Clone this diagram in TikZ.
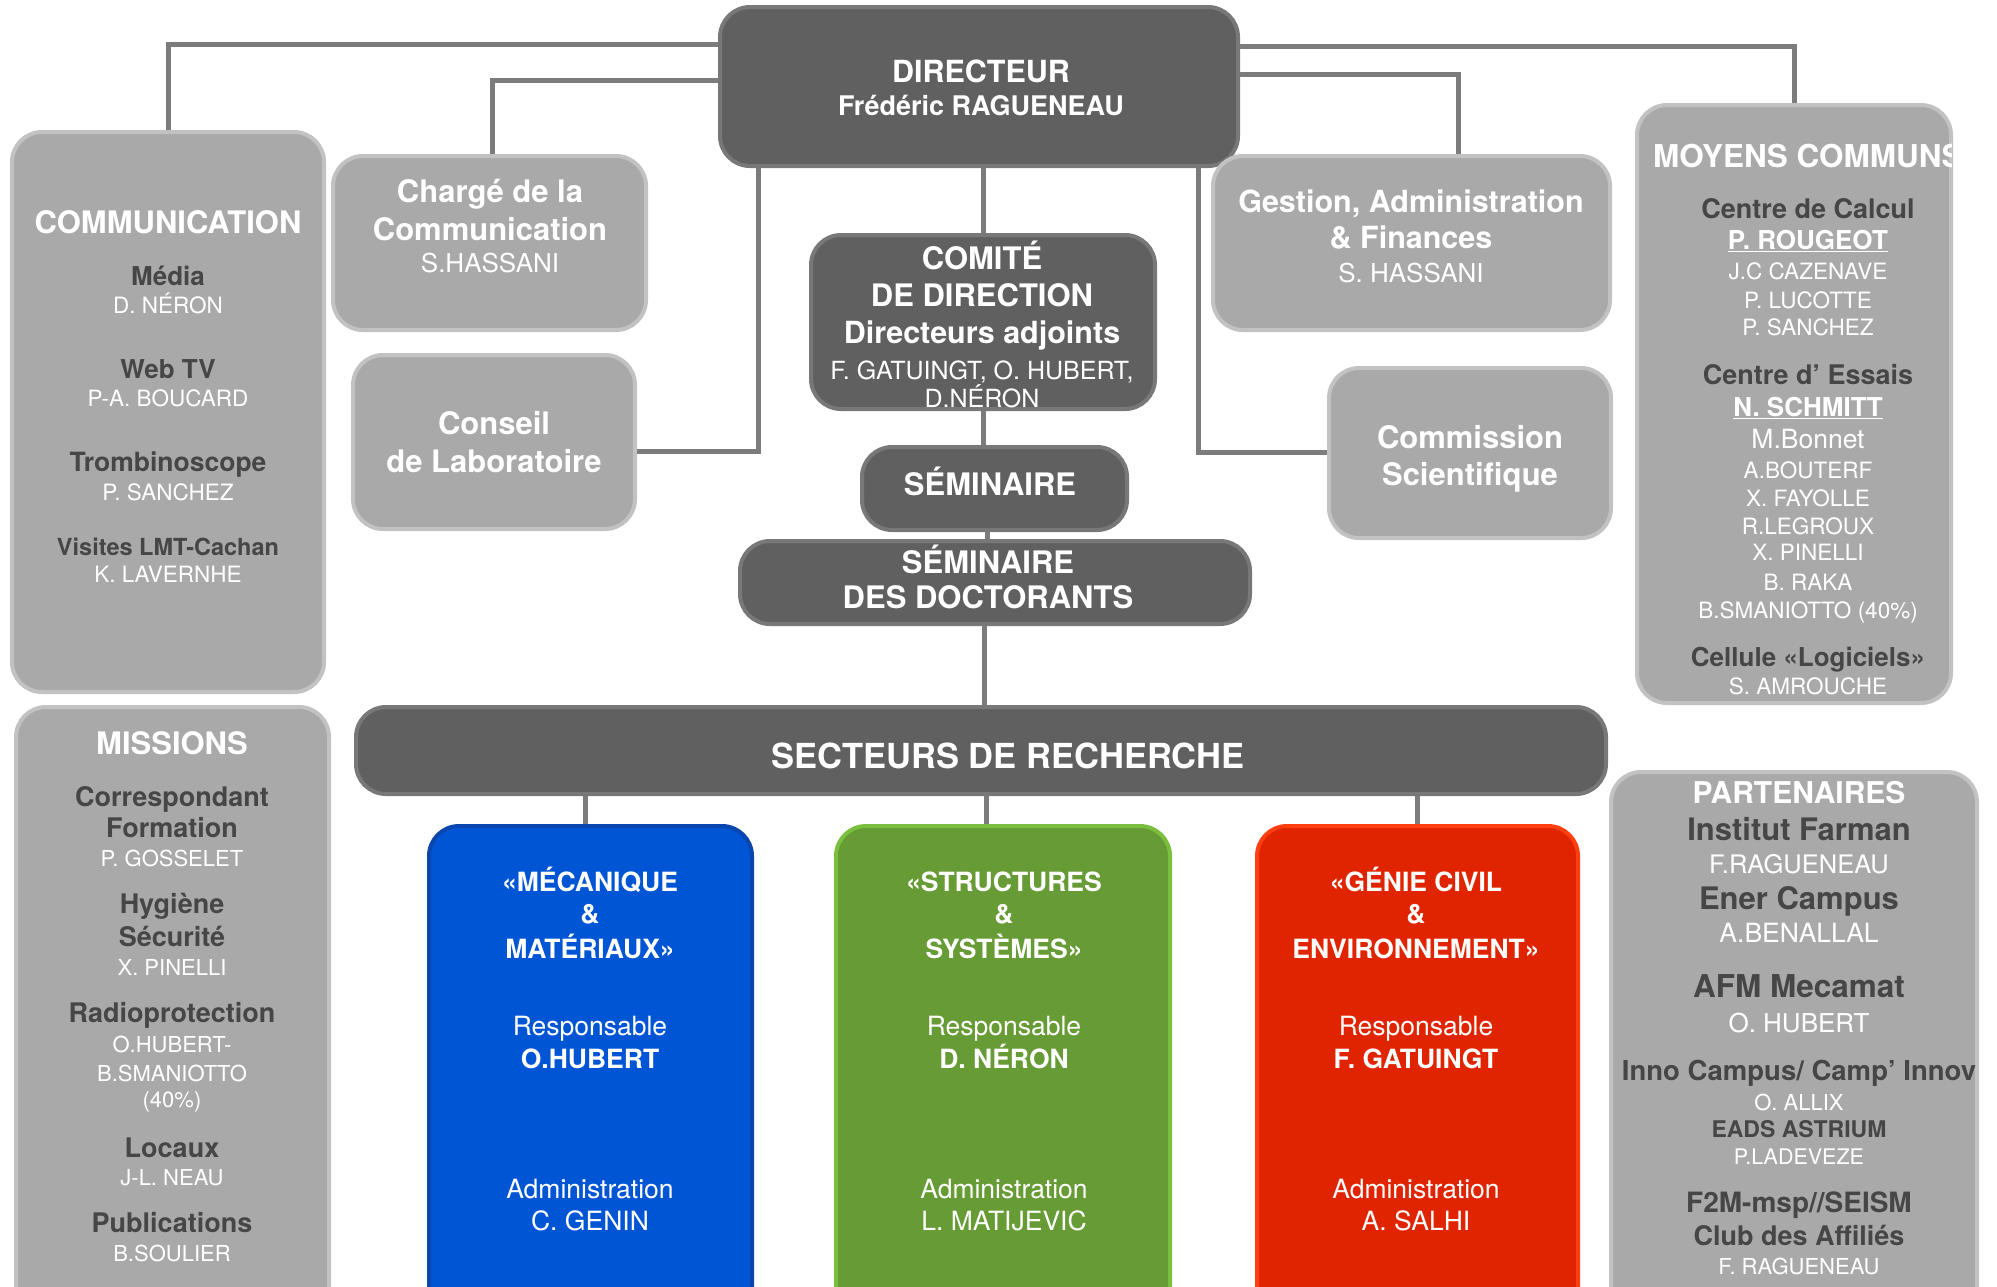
\documentclass[tikz,border=0pt]{standalone}
\usepackage{fontspec}
\setmainfont{TeX Gyre Heros}
\definecolor{dfill}{HTML}{606060}
\definecolor{dborder}{HTML}{787878}
\definecolor{gfill}{HTML}{A9A9A9}
\definecolor{gborder}{HTML}{C2C2C2}
\definecolor{linec}{HTML}{7C7C7C}
\definecolor{dtext}{HTML}{464646}
\definecolor{bfill}{HTML}{0055D5}
\definecolor{bborder}{HTML}{0A46AE}
\definecolor{gnfill}{HTML}{669B35}
\definecolor{gnborder}{HTML}{7ABF3E}
\definecolor{rfill}{HTML}{E12400}
\definecolor{rborder}{HTML}{FF3E12}
\newcommand\tWB[2]{{\fontsize{#1}{#1}\selectfont\bfseries\color{white}#2}}
\newcommand\tDB[2]{{\fontsize{#1}{#1}\selectfont\bfseries\color{dtext}#2}}
\newcommand\tWR[2]{{\fontsize{#1}{#1}\selectfont\color{white}#2}}
\newcommand\tph{\vphantom{É}}
\newcommand\tightlines{\lineskiplimit=-1000pt\relax}
\tikzset{
  box/.style={rounded corners=30pt, line width=4pt, inner sep=0pt},
  dbox/.style={box, draw=dborder, fill=dfill},
  gbox/.style={box, draw=gborder, fill=gfill},
  bluebox/.style={box, draw=bborder, fill=bfill},
  greenbox/.style={box, draw=gnborder, fill=gnfill},
  redbox/.style={box, draw=rborder, fill=rfill},
  conn/.style={draw=linec, line width=5pt},
  txt/.style={inner sep=0pt, align=center, anchor=north, font=\fontsize{10}{0}\selectfont\tightlines},
}
\begin{document}
\begin{tikzpicture}[x=1pt,y=-1pt]
\useasboundingbox (0,0) rectangle (1997,1286);
\clip (0,0) rectangle (1997,1286);
% boxes
\node[dbox, minimum width=518pt, minimum height=159pt] (dir) at (979,86.5) {};
\node[gbox, minimum width=312pt, minimum height=560pt] (comm) at (168,412) {};
\node[gbox, minimum width=313pt, minimum height=174pt] (charge) at (489.5,243) {};
\node[gbox, minimum width=282pt, minimum height=174pt] (conseil) at (494,442) {};
\node[dbox, minimum width=344pt, minimum height=174pt] (comite) at (983,322) {};
\node[dbox, minimum width=265pt, minimum height=83pt] (sem) at (994.5,488.5) {};
\node[dbox, minimum width=510pt, minimum height=83pt] (doct) at (995,582.5) {};
\node[gbox, minimum width=397pt, minimum height=174pt] (gestion) at (1411.5,243) {};
\node[gbox, minimum width=282pt, minimum height=170pt] (commission) at (1470,453) {};
\node[gbox, minimum width=314pt, minimum height=598pt] (moyens) at (1794,404) {};
\node[dbox, minimum width=1250pt, minimum height=87pt] (secteurs) at (981,750.5) {};
\node[gbox, minimum width=313pt, minimum height=613pt] (missions) at (172.5,1013.5) {};
\node[bluebox, minimum width=323pt, minimum height=494pt] (meca) at (590.5,1073) {};
\node[greenbox, minimum width=334pt, minimum height=494pt] (struct) at (1003,1073) {};
\node[redbox, minimum width=321pt, minimum height=494pt] (genie) at (1417.5,1073) {};
\node[gbox, minimum width=366pt, minimum height=548pt] (partners) at (1794,1046) {};
% connectors
\draw[conn] ([yshift=-39pt]dir.north west) -| (comm.north);
\coordinate (c1) at ([xshift=3pt]charge.north);
\draw[conn] ([yshift=-75pt]dir.north west) -| (c1);
\draw[conn] ([yshift=-41pt]dir.north east) -| (moyens.north);
\coordinate (c2) at ([xshift=47pt]gestion.north);
\draw[conn] ([yshift=-69pt]dir.north east) -| (c2);
\draw[conn] ([xshift=40pt]dir.south west) |- ([yshift=-9pt]conseil.east);
\draw[conn] (dir.south -| comite.north) -- (comite.north);
\draw[conn] ([xshift=-42pt]dir.south east) |- ([yshift=1pt]commission.west);
\draw[conn] (comite.south) -- (comite.south |- sem.north);
\coordinate (c3) at ([xshift=-7pt]sem.south);
\draw[conn] (c3) -- (c3 |- doct.north);
\coordinate (c4) at ([xshift=-11pt]doct.south);
\draw[conn] (c4) -- (c4 |- secteurs.north);
\coordinate (c5) at ([xshift=-5pt]meca.north);
\draw[conn] (c5 |- secteurs.south) -- (c5);
\coordinate (c6) at ([xshift=-17pt]struct.north);
\draw[conn] (c6 |- secteurs.south) -- (c6);
\draw[conn] (genie.north |- secteurs.south) -- (genie.north);
% texts
\node[txt] (dirT) at (981,54.6) {\tWB{30.5}{\tph DIRECTEUR}\\[32.7pt]\tWB{27}{Frédéric RAGUENEAU}};
\node[txt] (commT) at (168,204.4) {\tWB{31}{\tph COMMUNICATION}\\[52pt]
\tDB{26}{Média}\\[28.5pt]
\tWR{22.5}{D. NÉRON}\\[64.5pt]
\tDB{26}{Web TV}\\[28.5pt]
\tWR{22.5}{P-A. BOUCARD}\\[64.5pt]
\tDB{26.5}{Trombinoscope}\\[29.5pt]
\tWR{22.5}{P. SANCHEZ}\\[54.6pt]
\tDB{23.5}{Visites LMT-Cachan}\\[27.4pt]
\tWR{22.5}{K. LAVERNHE}};
\node[txt] (chargeT) at (490,174.2) {\tWB{31}{\tph Chargé de la}\\[38pt]\tWB{31}{Communication}\\[31.4pt]\tWR{26}{S.HASSANI}};
\node[txt] (conseilT) at (494,406.2) {\tWB{31}{\tph Conseil}\\[38pt]\tWB{31}{de Laboratoire}};
\node[txt] (comiteT) at (982,240.4) {\tWB{31}{\tph COMITÉ}\\[37pt]\tWB{31}{DE DIRECTION}\\[37.6pt]\tWB{30.5}{Directeurs adjoints}\\[35.4pt]\tWR{25}{F. GATUINGT, O. HUBERT,}\\[28.8pt]\tWR{25}{D.NÉRON}};
\node[txt] (semT) at (990,467.2) {\tWB{31}{\tph SÉMINAIRE}};
\node[txt] (doctT) at (988,545.2) {\tWB{31}{\tph SÉMINAIRE}\\[35pt]\tWB{31}{DES DOCTORANTS}};
\node[txt] (gestionT) at (1411,184.6) {\tWB{30.5}{\tph Gestion, Administration}\\[36pt]\tWB{30.5}{\& Finances}\\[33.5pt]\tWR{26}{S. HASSANI}};
\node[txt] (commissionT) at (1470,419.7) {\tWB{31}{\tph Commission}\\[37pt]\tWB{31}{Scientifique}};
\begin{scope}
\clip (moyens.north west) rectangle ([xshift=-2pt]moyens.south east);
\node[anchor=base west, inner sep=0pt, font=\fontsize{31.5}{31.5}\selectfont\bfseries, text=white] (moyensH) at (1653,167) {MOYENS COMMUNS};
\end{scope}
\node[txt] (moyensT) at (1808,193.6) {\tDB{27}{\tph Centre de Calcul}\\[31pt]
\tWB{26}{\underline{P. ROUGEOT}}\\[29.7pt]
\tWR{22.5}{J.C CAZENAVE}\\[28.9pt]
\tWR{22.5}{P. LUCOTTE}\\[27.4pt]
\tWR{22.5}{P. SANCHEZ}\\[48.4pt]
\tDB{27}{Centre d’ Essais}\\[32.1pt]
\tWB{26}{\underline{N. SCHMITT}}\\[32.2pt]
\tWR{26.5}{M.Bonnet}\\[29.8pt]
\tWR{22.5}{A.BOUTERF}\\[28.5pt]
\tWR{22.5}{X. FAYOLLE}\\[27.5pt]
\tWR{22.5}{R.LEGROUX}\\[26.5pt]
\tWR{22.5}{X. PINELLI}\\[30pt]
\tWR{22.5}{B. RAKA}\\[27.5pt]
\tWR{22.5}{B.SMANIOTTO (40\%)}\\[48.2pt]
\tDB{26}{Cellule «Logiciels»}\\[28.3pt]
\tWR{22.5}{S. AMROUCHE}};
\node[anchor=base, inner sep=0pt, font=\fontsize{34.5}{34.5}\selectfont\bfseries, text=white] (secteursT) at (1008,768) {SECTEURS DE RECHERCHE};
\node[txt] (missionsT) at (172,725.5) {\tWB{31}{\tph MISSIONS}\\[52.1pt]
\tDB{27}{Correspondant}\\[30.8pt]
\tDB{27}{Formation}\\[29.2pt]
\tWR{22}{P. GOSSELET}\\[47.5pt]
\tDB{27}{Hygiène}\\[33.1pt]
\tDB{27}{Sécurité}\\[28.9pt]
\tWR{22}{X. PINELLI}\\[47.1pt]
\tDB{27}{Radioprotection}\\[29.6pt]
\tWR{22}{O.HUBERT-}\\[28.6pt]
\tWR{22}{B.SMANIOTTO}\\[26.4pt]
\tWR{22}{(40\%)}\\[49.6pt]
\tDB{27}{Locaux}\\[28.4pt]
\tWR{22}{J-L. NEAU}\\[46.5pt]
\tDB{27}{Publications}\\[29.5pt]
\tWR{22}{B.SOULIER}};
\node[txt] (mecaT) at (590,866.8) {\tWB{26.5}{\tph «MÉCANIQUE}\\[32.3pt]\tWB{26.5}{\&}\\[34.3pt]\tWB{26.5}{MATÉRIAUX»}\\[77pt]\tWR{26.5}{Responsable}\\[33pt]\tWB{26.5}{O.HUBERT}\\[130.6pt]\tWR{26.5}{Administration}\\[32pt]\tWR{26.5}{C. GENIN}};
\node[txt] (structT) at (1004,866.8) {\tWB{26.5}{\tph «STRUCTURES}\\[32.3pt]\tWB{26.5}{\&}\\[34.3pt]\tWB{26.5}{SYSTÈMES»}\\[77pt]\tWR{26.5}{Responsable}\\[33pt]\tWB{26.5}{D. NÉRON}\\[130.6pt]\tWR{26.5}{Administration}\\[32pt]\tWR{26.5}{L. MATIJEVIC}};
\node[txt] (genieT) at (1416,866.8) {\tWB{26.5}{\tph «GÉNIE CIVIL}\\[32.3pt]\tWB{26.5}{\&}\\[34.3pt]\tWB{26.5}{ENVIRONNEMENT»}\\[77pt]\tWR{26.5}{Responsable}\\[33pt]\tWB{26.5}{F. GATUINGT}\\[130.6pt]\tWR{26.5}{Administration}\\[32pt]\tWR{26.5}{A. SALHI}};
\node[txt] (partnersT) at (1799,775.4) {\tWB{30}{\tph PARTENAIRES}\\[37pt]
\tDB{31}{Institut Farman}\\[33pt]
\tWR{25.5}{F.RAGUENEAU}\\[36.5pt]
\tDB{31}{Ener Campus}\\[33pt]
\tWR{26.5}{A.BENALLAL}\\[54.3pt]
\tDB{31.5}{AFM Mecamat}\\[35pt]
\tWR{26}{O. HUBERT}\\[48.7pt]
\tDB{27.5}{Inno Campus/ Camp’ Innov}\\[29.3pt]
\tWR{22}{O. ALLIX}\\[27.7pt]
\tDB{23}{EADS ASTRIUM}\\[26.6pt]
\tWR{21.5}{P.LADEVEZE}\\[48.3pt]
\tDB{28}{F2M-msp//SEISM}\\[33pt]
\tDB{27}{Club des Affiliés}\\[29pt]
\tWR{22}{F. RAGUENEAU}};
\end{tikzpicture}
\end{document}
